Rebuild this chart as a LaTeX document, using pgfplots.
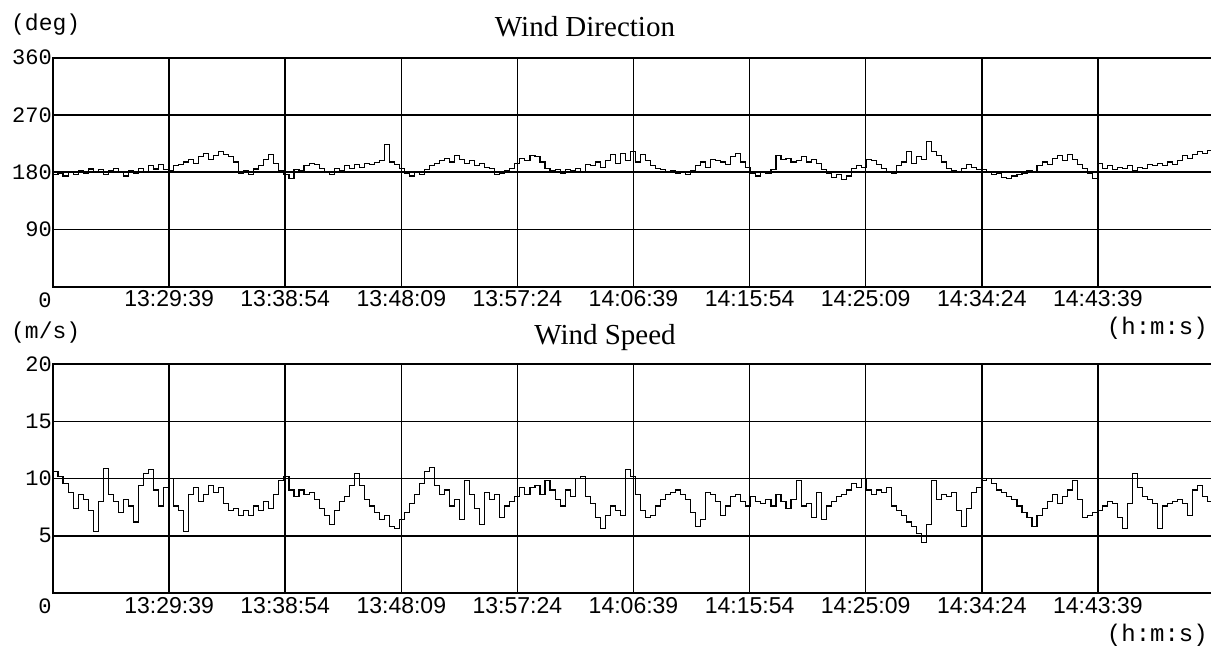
\documentclass[border=0pt]{standalone}
\usepackage{pgfplots}
\pgfplotsset{compat=1.18}
\usepackage{fontspec}
\setmainfont{Liberation Serif}
\newfontfamily\monofont{Liberation Mono}
\newfontfamily\tickfont{Liberation Sans}

% one sample every 24.0 s; 23.125 samples per 9 min 15 s grid column
\pgfplotsset{
  recorder/.style={
    scale only axis, width=1161pt, height=229pt,
    xmin=0, xmax=231.25,
    xtick={23.125,46.25,69.375,92.5,115.625,138.75,161.875,185,208.125},
    xticklabels={13:29:39,13:38:54,13:48:09,13:57:24,14:06:39,14:15:54,14:25:09,14:34:24,14:43:39},
    /pgf/number format/assume math mode=true,
    x tick label style={font=\tickfont\fontsize{23}{23}\selectfont, anchor=north, inner sep=0pt, yshift=-4pt},
    y tick label style={font=\monofont\fontsize{22}{22}\selectfont, anchor=east, inner sep=0pt, xshift=-1pt},
    major tick length=0pt,
    grid=major,
    major grid style={black, line width=1.5pt},
    axis line style={black, line width=2pt},
    trace/.style={black, line width=1.1pt, mark=none, const plot},
  }
}

\begin{document}
\begin{tikzpicture}
\useasboundingbox (0pt,0pt) rectangle (1211pt,-646pt);

% ---------------- wind direction ----------------
\begin{axis}[recorder, at={(53pt,-57.7pt)}, anchor=north west,
  ymin=0, ymax=360, ytick={90,180,270,360}]
\addplot[trace] coordinates {
(0,176)(1,178)(2,174)(3,180)(4,177)(5,182)(6,178)(7,185)(8,181)(9,184)
(10,176)(11,182)(12,186)(13,179)(14,174)(15,183)(16,178)(17,186)(18,180)(19,190)
(20,185)(21,192)(22,184)(23,182)(24,190)(25,192)(26,196)(27,200)(28,194)(29,205)
(30,210)(31,200)(32,206)(33,212)(34,208)(35,204)(36,196)(37,178)(38,182)(39,176)
(40,185)(41,190)(42,200)(43,208)(44,194)(45,182)(46,176)(47,170)(48,184)(49,182)
(50,190)(51,194)(52,192)(53,186)(54,180)(55,176)(56,186)(57,183)(58,190)(59,186)
(60,192)(61,188)(62,194)(63,192)(64,195)(65,198)(66,224)(67,196)(68,192)(69,186)
(70,178)(71,174)(72,180)(73,176)(74,184)(75,190)(76,194)(77,198)(78,202)(79,196)
(80,206)(81,200)(82,194)(83,198)(84,190)(85,194)(86,188)(87,186)(88,176)(89,178)
(90,182)(91,186)(92,194)(93,202)(94,198)(95,206)(96,204)(97,196)(98,186)(99,182)
(100,184)(101,178)(102,184)(103,182)(104,186)(105,180)(106,192)(107,190)(108,196)(109,188)
(110,198)(111,208)(112,194)(113,210)(114,198)(115,212)(116,196)(117,208)(118,198)(119,190)
(120,186)(121,184)(122,180)(123,182)(124,178)(125,180)(126,176)(127,182)(128,190)(129,196)
(130,188)(131,200)(132,198)(133,196)(134,192)(135,204)(136,210)(137,196)(138,188)(139,178)
(140,174)(141,180)(142,178)(143,184)(144,206)(145,200)(146,202)(147,196)(148,198)(149,204)
(150,196)(151,200)(152,194)(153,184)(154,178)(155,172)(156,176)(157,168)(158,174)(159,186)
(160,190)(161,188)(162,200)(163,198)(164,192)(165,186)(166,180)(167,178)(168,190)(169,196)
(170,212)(171,194)(172,204)(173,200)(174,228)(175,212)(176,206)(177,196)(178,186)(179,182)
(180,180)(181,186)(182,192)(183,188)(184,184)(185,184)(186,180)(187,176)(188,178)(189,172)
(190,170)(191,174)(192,176)(193,178)(194,182)(195,180)(196,190)(197,196)(198,192)(199,202)
(200,206)(201,198)(202,208)(203,200)(204,192)(205,186)(206,178)(207,170)(208,194)(209,186)
(210,190)(211,184)(212,188)(213,186)(214,190)(215,182)(216,188)(217,186)(218,192)(219,190)
(220,194)(221,190)(222,196)(223,192)(224,198)(225,206)(226,202)(227,208)(228,212)(229,210)
(230,214)(231,210)
};
\end{axis}

% ---------------- wind speed ----------------
\begin{axis}[recorder, at={(53pt,-364pt)}, anchor=north west,
  ymin=0, ymax=20, ytick={5,10,15,20}]
\addplot[trace] coordinates {
(0,10.6)(1,10.2)(2,9.6)(3,8.8)(4,7.4)(5,8.6)(6,8.2)(7,7.2)(8,5.4)(9,8.0)
(10,10.9)(11,8.6)(12,8.0)(13,7.0)(14,8.2)(15,7.6)(16,6.2)(17,9.4)(18,10.4)(19,10.8)
(20,9.0)(21,7.6)(22,9.2)(23,10.0)(24,7.6)(25,7.2)(26,5.4)(27,8.6)(28,9.2)(29,8.0)
(30,8.6)(31,9.4)(32,8.8)(33,9.2)(34,7.8)(35,7.2)(36,7.4)(37,6.8)(38,7.2)(39,6.8)
(40,7.6)(41,7.2)(42,8.0)(43,7.4)(44,8.6)(45,9.8)(46,10.2)(47,9.0)(48,8.4)(49,9.0)
(50,8.6)(51,8.8)(52,8.2)(53,7.4)(54,6.8)(55,6.0)(56,7.2)(57,8.0)(58,8.4)(59,9.4)
(60,10.4)(61,9.4)(62,8.2)(63,7.6)(64,7.0)(65,6.4)(66,6.8)(67,5.8)(68,5.6)(69,6.4)
(70,7.0)(71,7.8)(72,8.6)(73,9.6)(74,10.6)(75,11.0)(76,9.4)(77,8.6)(78,9.0)(79,7.6)
(80,8.2)(81,6.4)(82,9.8)(83,8.6)(84,7.4)(85,6.0)(86,8.8)(87,8.2)(88,8.6)(89,6.6)
(90,7.6)(91,8.0)(92,8.4)(93,9.2)(94,8.6)(95,9.2)(96,9.4)(97,8.6)(98,9.8)(99,9.0)
(100,8.2)(101,7.6)(102,9.0)(103,8.4)(104,10.0)(105,10.2)(106,8.4)(107,7.8)(108,6.6)(109,5.6)
(110,6.8)(111,7.6)(112,7.2)(113,6.8)(114,10.8)(115,10.2)(116,8.6)(117,7.2)(118,6.6)(119,6.8)
(120,7.6)(121,8.2)(122,8.6)(123,8.8)(124,9.0)(125,8.6)(126,8.2)(127,7.0)(128,5.8)(129,6.4)
(130,8.8)(131,8.6)(132,8.0)(133,6.8)(134,7.6)(135,8.4)(136,8.6)(137,8.0)(138,7.6)(139,8.4)
(140,8.0)(141,7.8)(142,8.2)(143,7.6)(144,8.6)(145,8.0)(146,7.4)(147,8.2)(148,9.8)(149,7.6)
(150,7.8)(151,6.6)(152,8.8)(153,6.4)(154,7.6)(155,8.0)(156,8.4)(157,8.6)(158,9.0)(159,9.6)
(160,9.2)(161,10.0)(162,9.0)(163,8.6)(164,9.0)(165,8.8)(166,9.2)(167,7.6)(168,7.2)(169,6.8)
(170,6.2)(171,5.8)(172,5.2)(173,4.4)(174,6.0)(175,9.8)(176,8.2)(177,8.6)(178,8.4)(179,8.8)
(180,7.2)(181,5.8)(182,7.4)(183,8.8)(184,9.2)(185,9.8)(186,10.0)(187,9.6)(188,9.0)(189,8.8)
(190,8.4)(191,8.2)(192,7.6)(193,7.0)(194,6.6)(195,5.8)(196,6.8)(197,7.4)(198,8.0)(199,8.6)
(200,7.8)(201,8.4)(202,9.0)(203,9.8)(204,8.2)(205,6.6)(206,6.8)(207,7.0)(208,7.2)(209,7.6)
(210,8.0)(211,7.8)(212,6.6)(213,5.6)(214,7.8)(215,10.4)(216,9.2)(217,8.4)(218,8.2)(219,7.8)
(220,5.6)(221,7.6)(222,7.8)(223,8.0)(224,8.2)(225,7.8)(226,6.8)(227,9.0)(228,9.4)(229,8.4)
(230,8.0)(231,8.6)
};
\end{axis}

% titles, units and the shared zero labels
\node[font=\fontsize{29}{29}\selectfont] at (585pt,-27pt) {Wind Direction};
\node[font=\fontsize{29}{29}\selectfont] at (605pt,-338pt) {Wind Speed};
\node[font=\monofont\fontsize{23}{23}\selectfont, anchor=west, inner sep=0pt] at (11pt,-25pt) {(deg)};
\node[font=\monofont\fontsize{23}{23}\selectfont, anchor=west, inner sep=0pt] at (11pt,-333pt) {(m/s)};
\node[font=\monofont\fontsize{24}{24}\selectfont, anchor=east, inner sep=0pt] at (1208pt,-328pt) {(h:m:s)};
\node[font=\monofont\fontsize{24}{24}\selectfont, anchor=east, inner sep=0pt] at (1208pt,-635pt) {(h:m:s)};
\node[font=\monofont\fontsize{22}{22}\selectfont, inner sep=0pt] at (45pt,-300pt) {0};
\node[font=\monofont\fontsize{22}{22}\selectfont, inner sep=0pt] at (45pt,-606pt) {0};
\end{tikzpicture}
\end{document}
